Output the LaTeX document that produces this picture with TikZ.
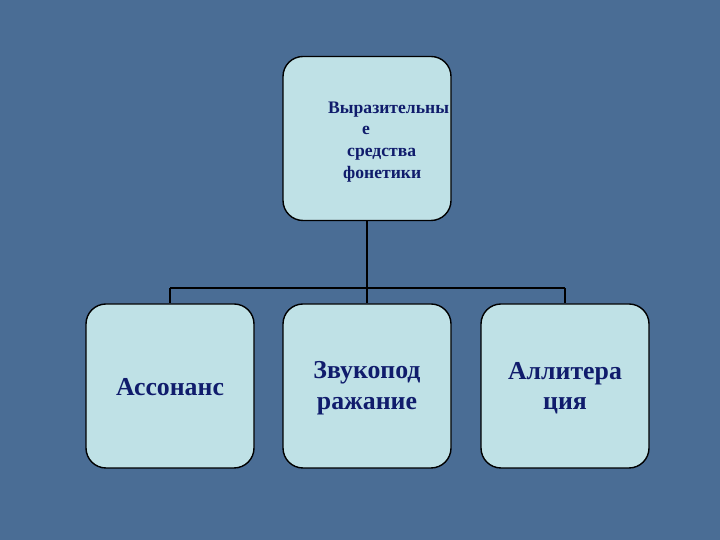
\documentclass[tikz,border=0pt]{standalone}
\usepackage{fontspec}
\setmainfont{Liberation Serif}
\begin{document}
\begin{tikzpicture}[x=1pt,y=1pt,
  box/.style={draw=black, line width=1.4pt, fill=boxfill, rounded corners=20pt,
    minimum width=168pt, minimum height=164pt, inner sep=0pt},
  toptext/.style={text=txtblue, font=\bfseries\fontsize{17.6}{21}\selectfont, inner sep=0pt, anchor=base west},
  bigtext/.style={text=txtblue, font=\bfseries\fontsize{25.8}{31}\selectfont, inner sep=0pt, anchor=base},
  conn/.style={draw=black, line width=2pt}]
\definecolor{bgblue}{HTML}{4A6D95}
\definecolor{boxfill}{HTML}{BFE1E6}
\definecolor{txtblue}{HTML}{101C6C}
\fill[bgblue] (0,0) rectangle (720,540);
\useasboundingbox (0,0) rectangle (720,540);
% boxes
\node[box] (top) at (367,401.5) {};
\node[box] (b1) at (170,154) {};
\node[box] (b2) at (367,154) {};
\node[box] (b3) at (565,154) {};
% connectors
\coordinate (j) at (367,252);
\coordinate (jl) at (170,252);
\coordinate (jr) at (565,252);
\draw[conn] (top.south) -- (j);
\draw[conn] (jl) -- (jr);
\draw[conn] (jl) -- (b1.north);
\draw[conn] (j) -- (b2.north);
\draw[conn] (jr) -- (b3.north);
% top texts
\node[toptext] (t1) at (328,426) {Выразительны};
\node[toptext] (t2) at (362,405) {е};
\node[toptext] (t3) at (347,383) {средства};
\node[toptext] (t4) at (343,361) {фонетики};
% bottom texts
\node[bigtext] (l1) at (170,144) {Ассонанс};
\node[bigtext] (l2a) at (367,161) {Звукопод};
\node[bigtext] (l2b) at (367,130) {ражание};
\node[bigtext] (l3a) at (565,160) {Аллитера};
\node[bigtext] (l3b) at (565,130) {ция};
\end{tikzpicture}
\end{document}
